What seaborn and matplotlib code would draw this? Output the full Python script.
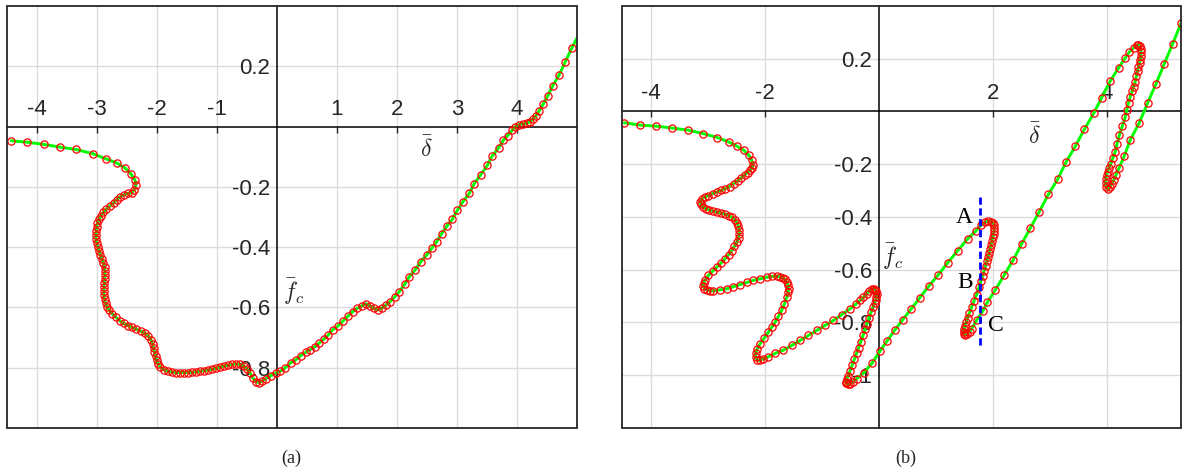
import matplotlib
matplotlib.use("Agg")
import matplotlib.pyplot as plt
from matplotlib.patches import Rectangle
import seaborn as sns
import pandas as pd

# ===== data =====

# panel (a)
left_x = [-4.43, -4.16, -3.89, -3.62, -3.35, -3.07, -2.85, -2.67, -2.53, -2.44, -2.37, -2.35, -2.38,
          -2.417, -2.483, -2.550, -2.617, -2.667, -2.725, -2.783, -2.842, -2.892, -2.933,
          -2.967, -2.992, -3.005, -3.012, -3.017, -3.013, -3.003, -2.987, -2.967, -2.942,
          -2.917, -2.892, -2.872, -2.867, -2.867, -2.872, -2.878, -2.883, -2.883, -2.883,
          -2.875, -2.858, -2.833, -2.792, -2.742, -2.683, -2.617, -2.550, -2.483, -2.417,
          -2.342, -2.267, -2.200, -2.142, -2.100, -2.075, -2.058, -2.042, -2.025, -2.008,
          -1.983, -1.942, -1.883, -1.817, -1.750, -1.683, -1.617, -1.550, -1.483, -1.417,
          -1.350, -1.283, -1.217, -1.150, -1.083, -1.017, -0.950, -0.883, -0.817, -0.750,
          -0.683, -0.617, -0.550, -0.500, -0.450, -0.400, -0.350, -0.300, -0.250, -0.183,
          -0.100, -0.017,
          0.050, 0.133, 0.228, 0.312, 0.395, 0.478, 0.550, 0.633, 0.705, 0.783,
          0.855, 0.928, 1.022, 1.105, 1.188, 1.262, 1.338, 1.412, 1.483, 1.550,
          1.617, 1.678, 1.745, 1.817, 1.883, 1.967, 2.038, 2.133, 2.205, 2.300,
          2.395, 2.495, 2.578, 2.662, 2.745, 2.828, 2.922, 3.005, 3.095, 3.205,
          3.288, 3.395, 3.505, 3.583, 3.695, 3.772, 3.845, 3.917, 3.972, 4.028,
          4.095, 4.162, 4.217, 4.272, 4.317, 4.372, 4.438, 4.512, 4.595, 4.705,
          4.805, 4.917, 5.08]
left_y = [-0.047, -0.052, -0.059, -0.068, -0.076, -0.090, -0.107, -0.121, -0.138, -0.156, -0.176, -0.193, -0.210,
          -0.220, -0.222, -0.226, -0.233, -0.243, -0.253, -0.263, -0.273, -0.284, -0.296,
          -0.307, -0.321, -0.334, -0.347, -0.360, -0.374, -0.387, -0.400, -0.413, -0.426,
          -0.440, -0.453, -0.466, -0.479, -0.493, -0.506, -0.519, -0.532, -0.545, -0.559,
          -0.572, -0.585, -0.598, -0.610, -0.621, -0.633, -0.645, -0.653, -0.660, -0.666,
          -0.673, -0.679, -0.686, -0.696, -0.707, -0.721, -0.734, -0.747, -0.760, -0.774,
          -0.787, -0.798, -0.807, -0.812, -0.814, -0.816, -0.816, -0.816, -0.816, -0.815,
          -0.814, -0.812, -0.810, -0.808, -0.805, -0.802, -0.798, -0.795, -0.792, -0.789,
          -0.788, -0.789, -0.795, -0.805, -0.817, -0.835, -0.846, -0.850, -0.845, -0.836,
          -0.826, -0.817,
          -0.812, -0.801, -0.784, -0.774, -0.760, -0.749, -0.740, -0.730, -0.718, -0.705,
          -0.691, -0.674, -0.661, -0.644, -0.628, -0.614, -0.603, -0.595, -0.588, -0.595,
          -0.603, -0.608, -0.603, -0.592, -0.581, -0.564, -0.548, -0.522, -0.498, -0.476,
          -0.449, -0.426, -0.404, -0.382, -0.355, -0.331, -0.307, -0.278, -0.250, -0.222,
          -0.189, -0.160, -0.129, -0.099, -0.070, -0.046, -0.030, -0.013, 0.000, 0.006,
          0.009, 0.011, 0.016, 0.025, 0.036, 0.053, 0.075, 0.102, 0.135, 0.172,
          0.215, 0.262, 0.324]

# panel (b)
right_x = [-4.468, -4.187, -3.906, -3.631, -3.350, -3.086, -2.835, -2.625, -2.484, -2.367, -2.279, -2.231, -2.214,
           -2.226, -2.261, -2.305, -2.358, -2.419, -2.481, -2.551, -2.621, -2.700, -2.770,
           -2.846, -2.920, -2.993, -3.060, -3.109, -3.134, -3.127, -3.095, -3.042, -2.981,
           -2.920, -2.849, -2.779, -2.709, -2.639, -2.577, -2.525, -2.489, -2.465, -2.451,
           -2.449, -2.463, -2.495, -2.537, -2.582, -2.639, -2.700, -2.770, -2.846, -2.920,
           -2.993, -3.046, -3.078, -3.086, -3.065, -3.025, -2.972, -2.906, -2.788, -2.670,
           -2.554, -2.437, -2.319, -2.203, -2.086, -1.968, -1.880, -1.792, -1.735, -1.682,
           -1.647, -1.617, -1.594, -1.585, -1.591, -1.617, -1.659, -1.705, -1.764, -1.822,
           -1.880, -1.940, -2.012, -2.086, -2.135, -2.165, -2.165, -2.138, -2.094, -2.033,
           -1.940, -1.822, -1.677, -1.529, -1.383, -1.238, -1.090, -0.945, -0.799, -0.651,
           -0.506, -0.409, -0.330, -0.272, -0.216, -0.167, -0.128, -0.093, -0.067, -0.049,
           -0.040, -0.042, -0.049, -0.075, -0.102, -0.137, -0.172, -0.207, -0.242, -0.277,
           -0.316, -0.353, -0.392, -0.430, -0.470, -0.506, -0.537, -0.562, -0.576, -0.571,
           -0.546, -0.509, -0.462, -0.392, -0.260, -0.119, 0.021, 0.144, 0.276, 0.416,
           0.565, 0.715, 0.873, 1.039, 1.206, 1.382, 1.557, 1.698, 1.794, 1.856,
           1.908, 1.961, 2.001, 2.022, 2.028, 2.022, 2.014, 2.001, 1.987, 1.970,
           1.952, 1.935, 1.917, 1.896, 1.873, 1.847, 1.821, 1.791, 1.759, 1.715,
           1.671, 1.627, 1.589, 1.557, 1.531, 1.510, 1.496, 1.489, 1.496, 1.520,
           1.554, 1.592, 1.631, 1.719, 1.824, 1.905, 2.040, 2.198, 2.361, 2.509,
           2.660, 2.818, 2.976, 3.141, 3.287, 3.450, 3.608, 3.773, 3.913, 4.059,
           4.212, 4.322, 4.398, 4.472, 4.524, 4.559, 4.586, 4.600, 4.603, 4.598,
           4.591, 4.577, 4.559, 4.542, 4.521, 4.498, 4.472, 4.445, 4.414, 4.384,
           4.354, 4.326, 4.275, 4.222, 4.182, 4.147, 4.108, 4.071, 4.041, 4.015,
           3.998, 3.985, 3.980, 3.989, 4.015, 4.050, 4.085, 4.121, 4.164, 4.222,
           4.310, 4.410, 4.573, 4.721, 4.867, 5.012, 5.160, 5.306, 5.446]
right_y = [-0.043, -0.052, -0.056, -0.063, -0.071, -0.084, -0.099, -0.117, -0.133, -0.148, -0.167, -0.186, -0.202,
           -0.214, -0.224, -0.232, -0.241, -0.252, -0.264, -0.274, -0.285, -0.293, -0.300,
           -0.306, -0.312, -0.319, -0.326, -0.332, -0.342, -0.352, -0.362, -0.369, -0.374,
           -0.378, -0.381, -0.385, -0.389, -0.395, -0.402, -0.412, -0.423, -0.436, -0.450,
           -0.464, -0.480, -0.496, -0.512, -0.528, -0.543, -0.559, -0.575, -0.591, -0.607,
           -0.622, -0.638, -0.651, -0.662, -0.672, -0.677, -0.680, -0.681, -0.677, -0.673,
           -0.665, -0.657, -0.649, -0.641, -0.635, -0.629, -0.626, -0.625, -0.627, -0.631,
           -0.637, -0.647, -0.658, -0.672, -0.687, -0.705, -0.730, -0.755, -0.778, -0.800,
           -0.819, -0.838, -0.860, -0.882, -0.901, -0.917, -0.932, -0.943, -0.945, -0.939,
           -0.931, -0.918, -0.906, -0.888, -0.869, -0.850, -0.831, -0.812, -0.793, -0.771,
           -0.749, -0.732, -0.717, -0.705, -0.693, -0.681, -0.674, -0.672, -0.676, -0.683,
           -0.693, -0.704, -0.715, -0.727, -0.742, -0.761, -0.782, -0.805, -0.827, -0.850,
           -0.873, -0.896, -0.918, -0.941, -0.964, -0.985, -1.002, -1.015, -1.025, -1.032,
           -1.036, -1.034, -1.027, -1.015, -0.991, -0.955, -0.909, -0.871, -0.831, -0.791,
           -0.750, -0.708, -0.664, -0.621, -0.575, -0.529, -0.484, -0.455, -0.431, -0.421,
           -0.417, -0.418, -0.422, -0.431, -0.442, -0.454, -0.465, -0.478, -0.492, -0.507,
           -0.522, -0.537, -0.552, -0.569, -0.586, -0.605, -0.624, -0.645, -0.668, -0.695,
           -0.719, -0.742, -0.763, -0.782, -0.799, -0.814, -0.827, -0.837, -0.844, -0.847,
           -0.844, -0.836, -0.825, -0.791, -0.758, -0.724, -0.679, -0.622, -0.563, -0.502,
           -0.442, -0.380, -0.315, -0.257, -0.192, -0.132, -0.068, -0.007, 0.052, 0.114,
           0.166, 0.202, 0.225, 0.240, 0.251, 0.253, 0.249, 0.237, 0.224, 0.211,
           0.197, 0.184, 0.169, 0.154, 0.133, 0.111, 0.093, 0.076, 0.055, 0.033,
           0.006, -0.022, -0.056, -0.091, -0.123, -0.155, -0.177, -0.199, -0.213, -0.228,
           -0.243, -0.258, -0.273, -0.287, -0.294, -0.288, -0.277, -0.262, -0.241, -0.213,
           -0.169, -0.110, -0.043, 0.033, 0.105, 0.181, 0.257, 0.335, 0.410]

# axes ticks and labels
left_xticks = [-4, -3, -2, -1, 1, 2, 3, 4]
left_yticks = [-0.8, -0.6, -0.4, -0.2, 0.2]
left_ylabels = ["-0.8", "-0.6", "-0.4", "-0.2", "0.2"]
right_xticks = [-4, -2, 2, 4]
right_yticks = [-1.0, -0.8, -0.6, -0.4, -0.2, 0.2]
right_ylabels = ["-1", "-0.8", "-0.6", "-0.4", "-0.2", "0.2"]

# vertical cut line and A/B/C labels in panel (b)
cut_x = [1.777, 1.777]
cut_y = [-0.325, -0.888]
point_labels = ["A", "B", "C"]
point_label_x = [1.50, 1.51, 2.05]
point_label_y = [-0.402, -0.648, -0.812]

# ====================================================================================================

sns.set_style("white")
plt.rcParams["font.family"] = ["Liberation Sans", "DejaVu Sans"]
plt.rcParams["axes.unicode_minus"] = False
plt.rcParams["mathtext.fontset"] = "cm"

TEXT = "#262626"


def draw_panel(ax, xs, ys, xlim, ylim, xticks, yticks, ylabels, xlab_pos, ylab_pos):
    ax.set_xlim(xlim)
    ax.set_ylim(ylim)
    ax.set_axisbelow(True)
    ax.grid(True, color="#dcdcdc", lw=1.0)
    # axes through the origin, box drawn separately
    for s in ("bottom", "right"):
        ax.spines[s].set_visible(False)
    for s in ("top", "left"):
        ax.spines[s].set_position(("data", 0))
        ax.spines[s].set_color("black")
        ax.spines[s].set_linewidth(1.1)
        ax.spines[s].set_zorder(1)
    ax.xaxis.tick_top()
    ax.set_xticks(xticks, [str(t) for t in xticks])
    ax.set_yticks(yticks, ylabels)
    ax.tick_params(axis="x", direction="in", length=4, width=1.0, pad=5,
                   labelsize=16, labelcolor=TEXT)
    ax.tick_params(axis="y", direction="in", length=4.3, width=1.0, pad=5,
                   labelsize=16, labelcolor=TEXT)
    ax.add_patch(Rectangle((0, 0), 1, 1, transform=ax.transAxes, fill=False,
                           ec=TEXT, lw=1.3, zorder=3, clip_on=False))

    df = pd.DataFrame({"delta": xs, "fc": ys})
    sns.lineplot(data=df, x="delta", y="fc", sort=False, estimator=None, ax=ax,
                 color="#00ff00", lw=2.1, marker="o", markersize=5.2,
                 markerfacecolor="none", markeredgecolor="#ff0000",
                 markeredgewidth=0.9, zorder=2)
    ax.set_xlabel("")
    ax.set_ylabel("")
    ax.text(xlab_pos[0], xlab_pos[1], r"$\bar{\delta}$", ha="center", va="center",
            fontsize=17, color=TEXT)
    ax.text(ylab_pos[0], ylab_pos[1], r"$\bar{f}_c$", ha="center", va="center",
            fontsize=17, color=TEXT)


fig = plt.figure(figsize=(11.82, 4.72), dpi=100)

ax1 = fig.add_axes([7 / 1182, 44 / 472, 570 / 1182, 422 / 472])
draw_panel(ax1, left_x, left_y, (-4.5, 5.0), (-1.0, 0.4), left_xticks, left_yticks,
           left_ylabels, (2.49, -0.076), (0.28, -0.549))

ax2 = fig.add_axes([622 / 1182, 44.3 / 472, 558.7 / 1182, 421.7 / 472])
draw_panel(ax2, right_x, right_y, (-4.51, 5.3), (-1.2, 0.4), right_xticks, right_yticks,
           right_ylabels, (2.73, -0.095), (0.25, -0.55))

ax2.plot(cut_x, cut_y, color="#0000ff", lw=2.0, ls=(0, (2.6, 1.3)), zorder=4)
for lab, lx, ly in zip(point_labels, point_label_x, point_label_y):
    ax2.text(lx, ly, lab, ha="center", va="center", fontsize=17,
             family="Liberation Serif", color="black", zorder=5)

fig.text(291 / 1182, 1 - 458.5 / 472, "(a)", ha="center", va="center",
         fontsize=13, family="Liberation Serif")
fig.text(906 / 1182, 1 - 458.5 / 472, "(b)", ha="center", va="center",
         fontsize=13, family="Liberation Serif")

fig.savefig("out.png", dpi=100)
